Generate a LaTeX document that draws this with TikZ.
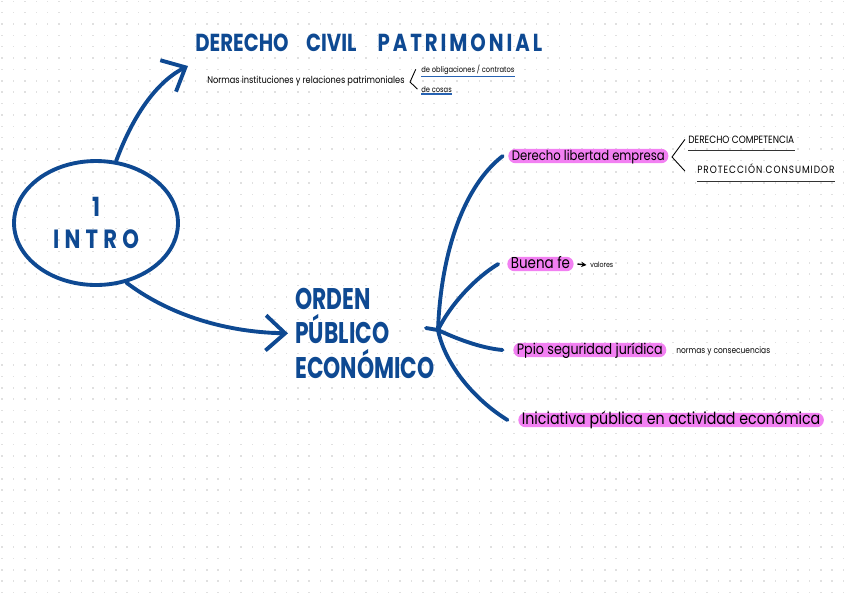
\documentclass[tikz,border=0pt]{standalone}
\usepackage{fontspec}
\usetikzlibrary{shapes.geometric,arrows.meta,positioning}
\newfontfamily\manoMay[FakeStretch=0.8]{Poppins}
\newfontfamily\manoTema[FakeStretch=0.73]{Poppins}
\newfontfamily\manoMin[FakeStretch=0.85]{Poppins}
\definecolor{azulMano}{RGB}{14,73,146}
\definecolor{azulLinea}{RGB}{38,98,178}
\definecolor{rosaMarca}{RGB}{242,128,242}
\definecolor{puntoGris}{RGB}{224,224,224}

\begin{document}
\begin{tikzpicture}[
    x=0.02cm,
    y=-0.02cm,
    every node/.style={inner sep=0pt},
    trazo/.style={draw=azulMano, line width=2.2pt, line cap=round},
    flecha/.style={trazo, -{Straight Barb[length=11pt,width=20pt]}},
    rama/.style={trazo},
    tema/.style={text=azulMano, font=\manoTema\bfseries\fontsize{17}{19.5}\selectfont, align=left},
    nota/.style={text=black, font=\manoMin\fontsize{5.5}{6}\selectfont},
    mayuscula/.style={text=black, font=\manoMin\fontsize{6}{7}\selectfont},
    marcado/.style={fill=rosaMarca, rounded corners=4pt, inner xsep=2pt, inner ysep=0.6pt,
        text height=6pt, text depth=1pt, font=\manoMin\fontsize{8.5}{9}\selectfont},
    llave/.style={draw=black, line width=0.5pt},
    subrayado/.style={draw=azulLinea, line width=0.8pt},
    subrayadoNegro/.style={draw=black!80, line width=0.6pt}
]

% Hoja punteada:
% fondo blanco con la cuadrícula de puntos de la libreta.
\useasboundingbox (0,0) rectangle (848,600);
\fill[white] (0,0) rectangle (848,600);
\foreach \i in {0,...,74}
    \foreach \j in {0,...,52}
        \fill[puntoGris] ({1.4+11.37*\i},{0.5+11.37*\j}) rectangle ++(1.5,1.5);

% Nodo central:
% óvalo a la izquierda, a media altura.
\node[ellipse, trazo, minimum width=3.28cm, minimum height=2.48cm, align=center,
    text=azulMano, font=\manoMay\bfseries\fontsize{15}{18}\selectfont] (intro) at (96,223)
    {1\\\addfontfeatures{LetterSpace=20}INTRO};

% Derecho civil patrimonial:
% título arriba, con su definición y las dos ramas pequeñas.
\node[text=azulMano, font=\manoMay\bfseries\fontsize{14}{14}\selectfont, anchor=base west]
    (titulo) at (195,51)
    {DERECHO\hspace{10pt}CIVIL\hspace{12pt}{\addfontfeatures{LetterSpace=12}PATRIMONIAL}};
\node[nota, anchor=base west] (normas) at (207,83)
    {Normas instituciones y relaciones patrimoniales};
\node[nota, font=\manoMin\fontsize{4.5}{5}\selectfont, anchor=base west] (oblig) at (421,72)
    {de obligaciones / contratos};
\node[nota, font=\manoMin\fontsize{4.5}{5}\selectfont, anchor=base west] (cosas) at (421,92)
    {de cosas};
\coordinate (llaveA) at (410,82);
\draw[llave] ([xshift=-3pt]oblig.west) -- (llaveA) -- ([xshift=-2pt]cosas.west);
\draw[subrayado] ([yshift=-1pt]oblig.south west) -- ([yshift=-1pt]oblig.south east);
\draw[subrayado] ([yshift=-1pt]cosas.south west) -- ([yshift=-1pt]cosas.south east);

\draw[flecha] (intro.72) .. controls (135,110) and (160,80) .. ([shift={(-7,15)}]titulo.base west);

% Orden público económico:
% abajo en el centro, con el abanico de ramas hacia la derecha.
\node[tema, anchor=north west] (orden) at (295,288) {ORDEN\\PÚBLICO\\ECONÓMICO};

\draw[flecha] (intro.-63) .. controls (165,312) and (220,332) .. ([xshift=-4pt]orden.west);

\coordinate (nudo) at (438,330);
\coordinate (nudoIzq) at (426,328);
\draw[rama] (nudoIzq) -- (nudo);

\node[marcado, anchor=west, font=\manoMin\fontsize{7.8}{8}\selectfont] (libertad) at (508,156)
    {Derecho libertad empresa};
\node[marcado, anchor=west, font=\manoMin\fontsize{9}{9}\selectfont] (buena) at (507,264) {Buena fe};
\node[marcado, anchor=west] (ppio) at (513,350) {Ppio seguridad jurídica};
\node[marcado, anchor=west, font=\manoMin\fontsize{9.5}{10}\selectfont] (iniciativa) at (518,420)
    {Iniciativa pública en actividad económica};

\draw[rama] (nudo) .. controls (441,250) and (465,185) .. ([xshift=-3pt]libertad.west);
\draw[rama] (nudo) .. controls (450,305) and (475,278) .. ([xshift=-5pt]buena.west);
\draw[rama] (nudo) .. controls (455,338) and (480,348) .. ([xshift=-6pt]ppio.west);
\draw[rama] (nudo) .. controls (445,365) and (475,400) .. ([xshift=-6pt]iniciativa.west);

% Notas de cada rama:
% texto pequeño a la derecha de cada marcado.
\node[mayuscula, anchor=base west] (competencia) at (688,143) {DERECHO COMPETENCIA};
\node[mayuscula, anchor=base west, font=\manoMin\fontsize{6}{7}\selectfont\addfontfeatures{LetterSpace=9}]
    (consumidor) at (697,173) {PROTECCIÓN CONSUMIDOR};
\coordinate (llaveB) at (672,157);
\draw[llave] ([shift={(-3,0)}]competencia.west) -- (llaveB) -- ([shift={(-12,3)}]consumidor.west);
\draw[subrayadoNegro] ([yshift=-4pt]competencia.base west) -- ([yshift=-4pt]competencia.base east);
\draw[subrayadoNegro] ([yshift=-5pt]consumidor.base west) -- ([yshift=-5pt]consumidor.base east);

\node[nota, font=\manoMin\fontsize{4.2}{5}\selectfont, anchor=west] (valores) at (590,265) {valores};
\draw[-{Stealth[length=3pt,width=3pt]}, line width=0.8pt] ([xshift=2pt]buena.east) -- ([xshift=-2pt]valores.west);

\node[nota, font=\manoMin\fontsize{5}{5}\selectfont, anchor=west] (consecuencias) at (676,351)
    {normas y consecuencias};

\end{tikzpicture}
\end{document}
